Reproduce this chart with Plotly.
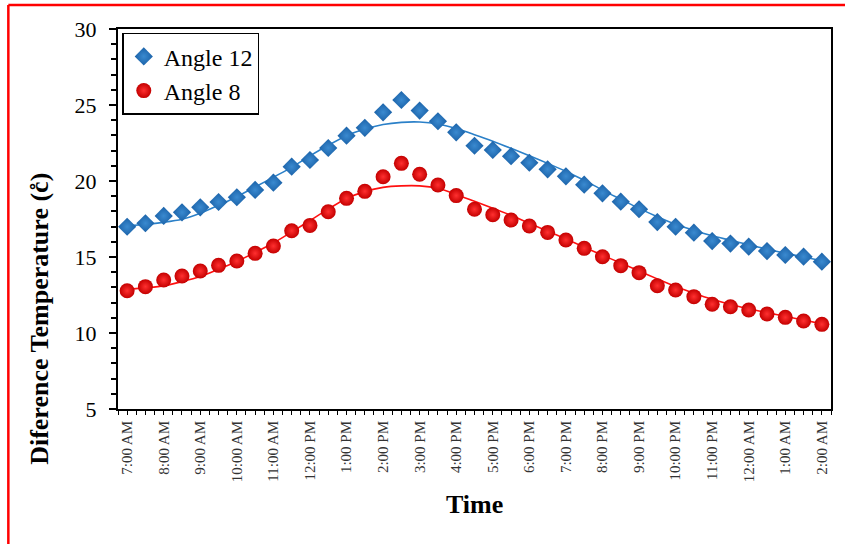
import plotly.graph_objects as go

time_labels = ["7:00 AM", "8:00 AM", "9:00 AM", "10:00 AM", "11:00 AM", "12:00 PM",
               "1:00 PM", "2:00 PM", "3:00 PM", "4:00 PM", "5:00 PM", "6:00 PM",
               "7:00 PM", "8:00 PM", "9:00 PM", "10:00 PM", "11:00 PM", "12:00 AM",
               "1:00 AM", "2:00 AM"]

angle12 = [16.99, 17.22, 17.70, 17.94, 18.27, 18.62, 18.93, 19.41, 19.89, 20.94,
           21.38, 22.17, 22.98, 23.50, 24.52, 25.33, 24.63, 23.93, 23.20, 22.32,
           22.04, 21.63, 21.20, 20.77, 20.31, 19.76, 19.19, 18.64, 18.14, 17.30,
           16.99, 16.60, 16.05, 15.88, 15.68, 15.39, 15.13, 15.02, 14.69]

angle8 = [12.78, 13.05, 13.49, 13.75, 14.08, 14.45, 14.74, 15.24, 15.72, 16.73,
          17.08, 17.98, 18.86, 19.32, 20.28, 21.16, 20.44, 19.74, 19.04, 18.14,
          17.78, 17.43, 17.04, 16.62, 16.12, 15.57, 15.02, 14.43, 13.97, 13.11,
          12.83, 12.39, 11.89, 11.73, 11.51, 11.25, 11.03, 10.79, 10.57]

trend12 = [17.04, 17.15, 17.28, 17.48, 17.88, 18.40, 18.97, 19.60, 20.25, 20.90,
           21.65, 22.35, 22.98, 23.42, 23.72, 23.86, 23.88, 23.75, 23.45, 23.05,
           22.62, 22.15, 21.66, 21.16, 20.63, 20.05, 19.40, 18.80, 18.20, 17.65,
           17.15, 16.75, 16.40, 16.10, 15.80, 15.52, 15.25, 15.00, 14.75]

trend8 = [12.87, 12.97, 13.10, 13.38, 13.72, 14.20, 14.70, 15.30, 15.92, 16.65,
          17.40, 18.15, 18.85, 19.30, 19.58, 19.68, 19.68, 19.52, 19.12, 18.66,
          18.20, 17.74, 17.22, 16.70, 16.18, 15.65, 15.12, 14.60, 14.08, 13.56,
          13.06, 12.62, 12.22, 11.88, 11.60, 11.34, 11.10, 10.85, 10.60]

x = list(range(len(angle12)))
tickvals = x[::2]

fig = go.Figure()

fig.add_trace(go.Scatter(x=x, y=trend12, mode="lines", showlegend=False,
                         line=dict(color="#2b80c8", width=1.6, shape="spline", smoothing=0.8),
                         hoverinfo="skip"))
fig.add_trace(go.Scatter(x=x, y=trend8, mode="lines", showlegend=False,
                         line=dict(color="#ff1010", width=1.6, shape="spline", smoothing=0.8),
                         hoverinfo="skip"))
fig.add_trace(go.Scatter(x=x, y=angle12, mode="markers", name="Angle 12",
                         marker=dict(symbol="diamond", size=14, color="#1b62a8",
                                     gradient=dict(type="radial", color="#3a8ad0"),
                                     line=dict(width=0))))
fig.add_trace(go.Scatter(x=x, y=angle8, mode="markers", name="Angle 8",
                         marker=dict(symbol="circle", size=15, color="#c40000",
                                     gradient=dict(type="radial", color="#ff3030"),
                                     line=dict(width=0))))

serif = "Liberation Serif, Times New Roman, serif"

fig.update_layout(
    width=845, height=544,
    margin=dict(l=118, r=12, t=29, b=135),
    paper_bgcolor="white", plot_bgcolor="white",
    font=dict(family=serif, color="black"),
    legend=dict(x=0.006, y=0.99, xanchor="left", yanchor="top",
                bordercolor="black", borderwidth=1.5, bgcolor="white",
                font=dict(family=serif, size=24, color="black"),
                itemwidth=30, tracegroupgap=0),
    xaxis=dict(range=[-0.5, 38.5], tickmode="array", tickvals=tickvals, ticktext=time_labels,
               tickangle=-90, tickfont=dict(family=serif, size=15, color="#333333"),
               showline=True, linecolor="black", linewidth=2, mirror=True,
               ticks="outside", ticklen=4, tickwidth=1, tickcolor="black",
               minor=dict(tickmode="linear", tick0=-0.5, dtick=0.5, ticks="outside",
                          ticklen=4, tickwidth=1, tickcolor="black"),
               showgrid=False, zeroline=False),
    yaxis=dict(range=[5, 30], tickmode="linear", tick0=5, dtick=5,
               tickfont=dict(family=serif, size=22, color="black"),
               showline=True, linecolor="black", linewidth=2, mirror=True,
               ticks="outside", ticklen=7, tickwidth=1.5, tickcolor="black",
               ticklabelstandoff=8,
               minor=dict(tickmode="linear", tick0=5, dtick=1, ticks="outside",
                          ticklen=5, tickwidth=1.5, tickcolor="black"),
               showgrid=False, zeroline=False),
    annotations=[
        dict(text="<b>Time</b>", xref="paper", yref="paper", x=0.5, y=-0.25,
             xanchor="center", yanchor="middle", showarrow=False,
             font=dict(family=serif, size=26, color="black")),
        dict(text="<b>Diference Temperature (c\u030a)</b>", xref="paper", yref="paper",
             x=-0.1095, y=0.237, textangle=-90, xanchor="center", yanchor="middle",
             showarrow=False, font=dict(family=serif, size=26, color="black")),
    ],
    shapes=[
        dict(type="line", xref="paper", yref="paper", x0=-0.1538, x1=1.05, y0=1.0632, y1=1.0632,
             line=dict(color="red", width=2.5)),
        dict(type="line", xref="paper", yref="paper", x0=-0.1538, x1=-0.1538, y0=1.0632, y1=-0.4,
             line=dict(color="red", width=2.5)),
    ],
)

fig.write_html("out.html", config={"displayModeBar": False},
               post_script="document.body.style.margin='0';")
